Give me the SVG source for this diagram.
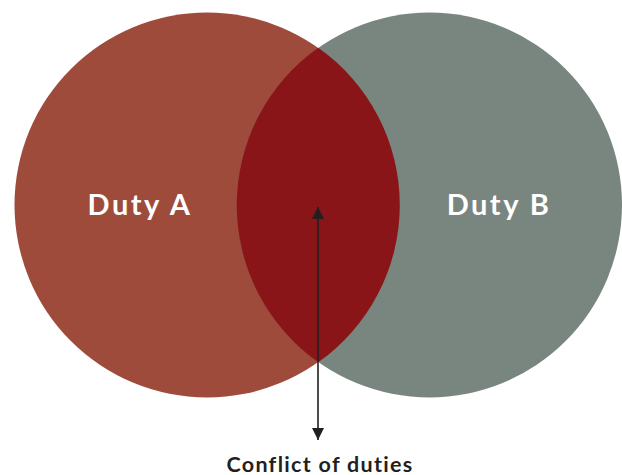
<svg xmlns="http://www.w3.org/2000/svg" width="622" height="475" viewBox="0 0 622 475">
<style>
.lbl{font-family:Lato,"Open Sans","Liberation Sans",sans-serif;font-weight:700;text-anchor:middle}
.w{fill:#ffffff;font-size:29px;letter-spacing:2.5px}
.k{fill:#231f20;font-size:21.5px;letter-spacing:1.3px}
</style>
<defs>
<marker id="ah" viewBox="0 0 12 16" refX="12" refY="8" markerWidth="12" markerHeight="16" markerUnits="userSpaceOnUse" orient="auto-start-reverse">
<path d="M0,2 L12,8 L0,14 Z" fill="#231f20"/>
</marker>
</defs>
<rect width="622" height="475" fill="#ffffff"/>
<g id="dutyA">
<circle cx="207" cy="205" r="192.5" fill="#9e4b3c"/>
<text class="lbl w" x="140" y="215">Duty A</text>
</g>
<g id="dutyB">
<circle cx="429.5" cy="205" r="192.5" fill="#79867f"/>
<text class="lbl w" x="499" y="215">Duty B</text>
</g>
<g id="conflict">
<path d="M318.25,47.7 A192.5,192.5 0 0 1 318.25,362.3 A192.5,192.5 0 0 1 318.25,47.7 Z" fill="#8a1519"/>
<text class="lbl k" x="320" y="471.5">Conflict of duties</text>
</g>
<g id="connectors">
<line x1="318" y1="207" x2="318" y2="440" stroke="#231f20" stroke-width="1.6" marker-start="url(#ah)" marker-end="url(#ah)"/>
</g>
</svg>
